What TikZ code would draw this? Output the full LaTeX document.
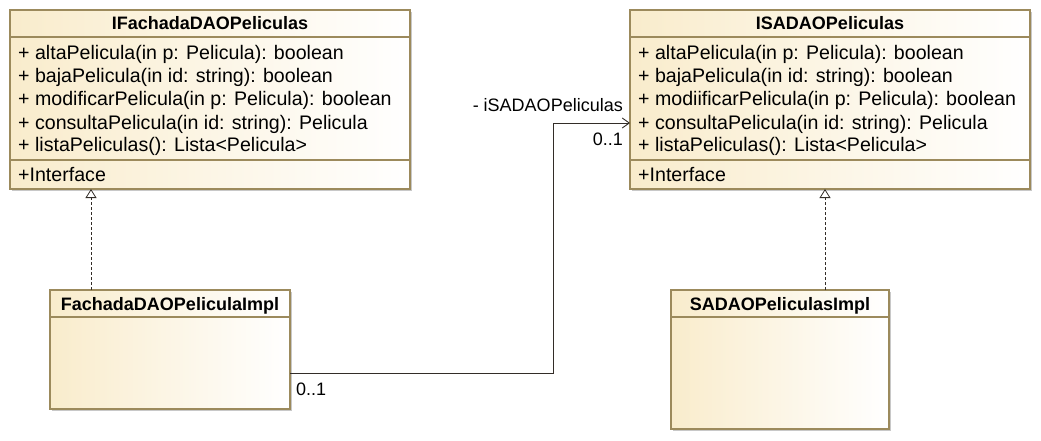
\documentclass[tikz,border=0pt]{standalone}
\usepackage{fontspec}
\setmainfont{Liberation Sans}
\usetikzlibrary{arrows.meta,calc,shadows}
\definecolor{umlborder}{RGB}{156,138,92}
\definecolor{umlfill}{RGB}{249,236,204}
\definecolor{umlline}{RGB}{51,45,40}
\definecolor{umlshadow}{RGB}{200,200,200}
\begin{document}
\begin{tikzpicture}[x=1pt,y=-1pt,
  classbox/.style={draw=umlborder, line width=1.2pt, left color=umlfill, right color=white,
    anchor=north west, inner sep=0pt, outer sep=0pt,
    drop shadow={shadow xshift=2pt, shadow yshift=-2pt, fill=umlshadow, opacity=1}},
  sepline/.style={draw=umlborder, line width=1.2pt},
  title/.style={font=\fontsize{18}{20}\selectfont\bfseries, inner sep=0pt, anchor=base},
  member/.style={font=\fontsize{19.6}{22}\selectfont, anchor=base west, inner sep=0pt},
  lbl/.style={font=\fontsize{18}{20}\selectfont, inner sep=0pt},
  realize/.style={draw=umlline, dash pattern=on 3pt off 2pt, line width=0.8pt,
    -{Triangle[open,length=9pt,width=11pt]}},
  assoc/.style={draw=umlline, line width=0.9pt, -{Straight Barb[length=7pt,width=10pt]}},
]
\useasboundingbox (0,0) rectangle (1041,441);

% ---------- IFachadaDAOPeliculas ----------
\node[classbox, minimum width=400pt, minimum height=179pt] (ifa) at (10,10) {};
\draw[sepline] (ifa.north west |- 0,37) -- (ifa.north east |- 0,37);
\draw[sepline] (ifa.north west |- 0,160) -- (ifa.north east |- 0,160);
\node[title] (ifat) at (210,29.5) {IFachadaDAOPeliculas};
\foreach \t [count=\i] in {{+ altaPelicula(in p: Pelicula): boolean},
  {+ bajaPelicula(in id: string): boolean},
  {+ modificarPelicula(in p: Pelicula): boolean},
  {+ consultaPelicula(in id: string): Pelicula},
  {+ listaPeliculas(): Lista<Pelicula>}}
  \node[member] (ifam\i) at (18,37+\i*23) {\t};
\node[member] (ifai) at (18,181) {+Interface};

% ---------- ISADAOPeliculas ----------
\node[classbox, minimum width=400pt, minimum height=179pt] (isa) at (630,10) {};
\draw[sepline] (isa.north west |- 0,37) -- (isa.north east |- 0,37);
\draw[sepline] (isa.north west |- 0,160) -- (isa.north east |- 0,160);
\node[title] (isat) at (830,29.5) {ISADAOPeliculas};
\foreach \t [count=\i] in {{+ altaPelicula(in p: Pelicula): boolean},
  {+ bajaPelicula(in id: string): boolean},
  {+ modiificarPelicula(in p: Pelicula): boolean},
  {+ consultaPelicula(in id: string): Pelicula},
  {+ listaPeliculas(): Lista<Pelicula>}}
  \node[member] (isam\i) at (638,37+\i*23) {\t};
\node[member] (isai) at (638,181) {+Interface};

% ---------- FachadaDAOPeliculaImpl ----------
\node[classbox, minimum width=240pt, minimum height=119pt] (fimpl) at (50,290) {};
\draw[sepline] (fimpl.north west |- 0,317) -- (fimpl.north east |- 0,317);
\node[title] (fimplt) at (170,310) {FachadaDAOPeliculaImpl};

% ---------- SADAOPeliculasImpl ----------
\node[classbox, minimum width=218pt, minimum height=139pt] (simpl) at (671,290) {};
\draw[sepline] (simpl.north west |- 0,317) -- (simpl.north east |- 0,317);
\node[title] (simplt) at (780,310) {SADAOPeliculasImpl};

% ---------- realizations ----------
\draw[realize] (fimpl.north west -| 91,0) -- (ifa.south west -| 91,0);
\draw[realize] (simpl.north west -| 825,0) -- (isa.south west -| 825,0);

% ---------- association ----------
\draw[assoc] ($(fimpl.south east)+(0,-36)$) -- (553,373) -- (553,123) -- (isa.west |- 0,123);
\node[lbl, anchor=east] (rolename) at (623,105) {- iSADAOPeliculas};
\node[lbl, anchor=east] (multt) at (623,139) {0..1};
\node[lbl, anchor=west] (mults) at (296,389) {0..1};
\end{tikzpicture}
\end{document}
